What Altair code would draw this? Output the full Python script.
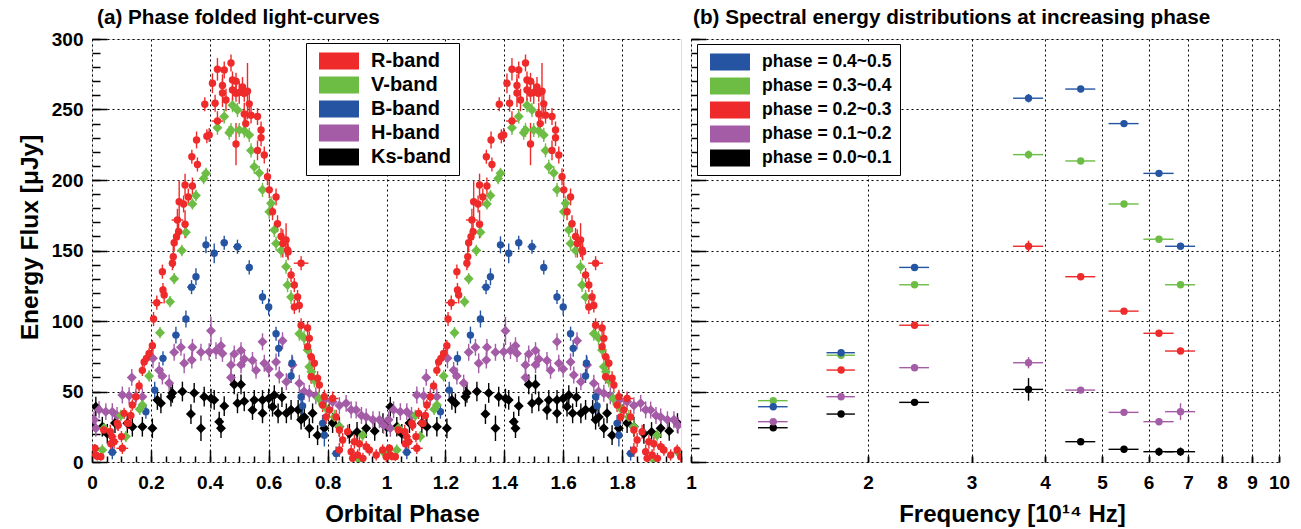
import altair as alt
import pandas as pd

FONT = "Liberation Sans"

# ---------------- (a) phase-folded light curves: (phase, flux, yerr, xerr) ----------------
R_BAND = [
    (0.010, 9.7, 3, 0.008), (0.013, 5.0, 3, 0.010), (0.018, 4.0, 3, 0.008), (0.030, 3.8, 3, 0.010),
    (0.040, 22.7, 4, 0.010), (0.062, 21.5, 5, 0.012), (0.064, 13.0, 4, 0.012), (0.068, 18.0, 5, 0.015),
    (0.075, 14.4, 5, 0.015), (0.086, 27.6, 5, 0.010), (0.089, 26.0, 4, 0.008), (0.100, 18.0, 4, 0.010),
    (0.103, 9.7, 4, 0.020), (0.109, 34.5, 4, 0.010), (0.120, 27.6, 4, 0.008), (0.124, 27.4, 4, 0.010),
    (0.132, 33.0, 4, 0.010), (0.137, 40.4, 4, 0.010), (0.149, 46.3, 4, 0.010), (0.160, 53.9, 4, 0.008),
    (0.171, 65.0, 4, 0.008), (0.177, 71.0, 4, 0.008), (0.185, 73.5, 4, 0.008), (0.194, 77.0, 4, 0.008),
    (0.205, 82.5, 4, 0.008), (0.209, 101.4, 5, 0.008), (0.220, 113.0, 5, 0.020), (0.239, 135.0, 5, 0.008),
    (0.241, 122.0, 5, 0.008), (0.245, 118.4, 6, 0.008), (0.273, 141.0, 5, 0.010), (0.276, 145.6, 8, 0.008),
    (0.279, 155.5, 6, 0.008), (0.287, 159.8, 6, 0.008), (0.290, 171.6, 8, 0.020), (0.294, 163.3, 6, 0.008),
    (0.296, 184.6, 15, 0.008), (0.311, 183.0, 6, 0.008), (0.316, 196.5, 8, 0.008), (0.316, 168.6, 10, 0.008),
    (0.327, 188.0, 6, 0.008), (0.339, 216.5, 5, 0.008), (0.341, 195.7, 6, 0.008), (0.355, 228.4, 6, 0.008),
    (0.358, 211.0, 5, 0.008), (0.383, 253.7, 5, 0.008), (0.390, 231.0, 5, 0.008), (0.398, 231.9, 5, 0.008),
    (0.409, 268.6, 7, 0.008), (0.418, 254.4, 6, 0.008), (0.426, 278.5, 8, 0.008), (0.426, 241.8, 7, 0.020),
    (0.443, 267.0, 8, 0.008), (0.443, 261.7, 10, 0.008), (0.449, 278.0, 6, 0.008), (0.455, 256.7, 8, 0.008),
    (0.472, 283.0, 6, 0.008), (0.477, 263.8, 8, 0.008), (0.477, 271.0, 6, 0.008), (0.489, 270.0, 6, 0.008),
    (0.489, 261.5, 6, 0.008), (0.489, 225.5, 15, 0.008), (0.500, 262.0, 8, 0.008), (0.511, 266.0, 7, 0.008),
    (0.517, 246.8, 8, 0.008), (0.517, 261.5, 6, 0.008), (0.522, 240.0, 6, 0.008), (0.528, 263.0, 20, 0.008),
    (0.534, 254.0, 7, 0.008), (0.540, 246.0, 6, 0.008), (0.562, 245.0, 6, 0.008), (0.562, 221.0, 7, 0.008),
    (0.574, 235.5, 6, 0.008), (0.574, 230.0, 6, 0.008), (0.585, 217.7, 6, 0.008), (0.596, 202.3, 6, 0.008),
    (0.602, 193.0, 6, 0.008), (0.613, 177.5, 6, 0.008), (0.625, 188.0, 6, 0.008), (0.630, 169.0, 6, 0.008),
    (0.642, 160.0, 6, 0.008), (0.648, 155.0, 10, 0.008), (0.659, 157.4, 12, 0.008), (0.664, 150.4, 6, 0.008),
    (0.666, 149.0, 6, 0.008), (0.676, 132.6, 5, 0.008), (0.687, 125.5, 5, 0.008), (0.687, 110.0, 5, 0.008),
    (0.698, 117.0, 5, 0.008), (0.704, 111.0, 5, 0.008), (0.710, 141.0, 5, 0.025), (0.710, 97.0, 5, 0.008),
    (0.732, 95.0, 5, 0.008), (0.738, 87.7, 5, 0.008), (0.732, 81.8, 5, 0.008), (0.744, 74.7, 5, 0.008),
    (0.755, 70.0, 5, 0.008), (0.744, 60.5, 5, 0.008), (0.766, 59.4, 5, 0.008), (0.772, 54.6, 5, 0.008),
    (0.783, 40.4, 5, 0.008), (0.789, 46.3, 5, 0.008), (0.795, 32.0, 5, 0.008), (0.806, 36.9, 5, 0.008),
    (0.817, 45.0, 5, 0.020), (0.829, 32.0, 5, 0.008), (0.840, 22.7, 5, 0.008), (0.840, 8.5, 5, 0.010),
    (0.851, 15.6, 5, 0.010), (0.868, 21.5, 5, 0.010), (0.880, 7.3, 5, 0.010), (0.885, 2.6, 4, 0.010),
    (0.891, 14.4, 5, 0.015), (0.902, 5.0, 4, 0.010), (0.908, 13.0, 5, 0.010), (0.920, 2.6, 4, 0.010),
    (0.931, 10.9, 4, 0.010), (0.942, 8.5, 4, 0.010), (0.965, 5.0, 4, 0.010), (0.987, 8.5, 4, 0.010),
    (0.999, 3.8, 4, 0.010),
]
V_BAND = [
    (0.035, 8.5, 4, 0.008), (0.041, 23.9, 4, 0.008), (0.098, 33.0, 4, 0.008), (0.115, 18.0, 4, 0.008),
    (0.162, 37.4, 4, 0.008), (0.171, 40.4, 4, 0.008), (0.194, 61.0, 4, 0.008), (0.231, 91.7, 4, 0.010),
    (0.265, 113.7, 4, 0.008), (0.279, 130.0, 4, 0.008), (0.305, 150.0, 4, 0.008), (0.319, 163.0, 4, 0.008),
    (0.341, 183.0, 4, 0.008), (0.353, 189.0, 4, 0.008), (0.379, 201.0, 4, 0.008), (0.387, 204.7, 4, 0.008),
    (0.426, 237.0, 5, 0.008), (0.449, 245.0, 5, 0.008), (0.466, 233.5, 5, 0.008), (0.472, 235.5, 5, 0.008),
    (0.477, 253.0, 5, 0.008), (0.494, 249.6, 5, 0.008), (0.500, 235.5, 5, 0.008), (0.517, 235.0, 5, 0.008),
    (0.534, 232.0, 5, 0.008), (0.540, 221.0, 5, 0.008), (0.551, 209.4, 5, 0.008), (0.568, 205.0, 5, 0.008),
    (0.579, 193.0, 5, 0.008), (0.602, 177.5, 5, 0.008), (0.608, 183.5, 5, 0.008), (0.619, 164.5, 5, 0.008),
    (0.625, 155.0, 5, 0.008), (0.642, 150.0, 5, 0.008), (0.659, 138.5, 5, 0.008), (0.664, 125.5, 5, 0.008),
    (0.676, 117.0, 5, 0.008), (0.704, 91.0, 5, 0.008), (0.720, 88.0, 5, 0.008), (0.732, 79.4, 5, 0.008),
    (0.738, 67.6, 5, 0.008), (0.745, 64.0, 5, 0.008), (0.755, 58.0, 5, 0.008), (0.770, 45.0, 5, 0.008),
    (0.795, 38.0, 5, 0.008), (0.823, 32.0, 5, 0.008), (0.840, 25.0, 5, 0.008), (0.908, 1.4, 4, 0.008),
    (0.919, 19.0, 4, 0.008), (0.990, 7.0, 4, 0.008),
]
B_BAND = [
    (0.069, 6.9, 5, 0.015), (0.183, 35.7, 5, 0.010), (0.213, 51.0, 6, 0.010), (0.241, 73.5, 5, 0.010),
    (0.285, 90.0, 6, 0.012), (0.319, 101.4, 6, 0.008), (0.338, 124.0, 5, 0.015), (0.353, 131.4, 6, 0.008),
    (0.387, 154.0, 6, 0.010), (0.415, 148.0, 7, 0.008), (0.449, 155.5, 5, 0.012), (0.494, 152.7, 5, 0.015),
    (0.534, 138.0, 5, 0.010), (0.579, 117.0, 5, 0.010), (0.600, 110.0, 6, 0.008), (0.625, 91.0, 5, 0.008),
    (0.634, 80.6, 6, 0.008), (0.676, 61.0, 5, 0.010), (0.679, 70.0, 6, 0.008), (0.710, 46.3, 5, 0.008),
    (0.715, 39.7, 6, 0.008), (0.783, 27.4, 6, 0.008), (0.789, 19.0, 8, 0.008), (0.829, 6.0, 5, 0.015),
]
H_BAND = [
    (0.007, 30.0, 6, 0.008), (0.013, 23.9, 6, 0.008), (0.024, 37.0, 6, 0.008), (0.047, 35.7, 6, 0.008),
    (0.069, 35.7, 6, 0.008), (0.085, 33.0, 6, 0.008), (0.103, 47.5, 6, 0.008), (0.126, 47.0, 6, 0.008),
    (0.135, 60.0, 6, 0.008), (0.149, 46.3, 6, 0.008), (0.171, 46.3, 6, 0.008), (0.207, 73.5, 7, 0.008),
    (0.228, 65.0, 6, 0.008), (0.239, 61.0, 6, 0.008), (0.262, 56.0, 6, 0.008), (0.279, 77.8, 6, 0.008),
    (0.302, 81.3, 6, 0.008), (0.313, 70.0, 7, 0.008), (0.339, 72.3, 6, 0.008), (0.341, 81.3, 6, 0.008),
    (0.370, 77.8, 6, 0.008), (0.398, 78.2, 6, 0.008), (0.404, 93.0, 10, 0.008), (0.421, 79.0, 6, 0.008),
    (0.438, 82.5, 6, 0.008), (0.443, 77.0, 6, 0.008), (0.472, 68.8, 7, 0.008), (0.472, 60.0, 6, 0.008),
    (0.483, 76.6, 6, 0.008), (0.506, 79.0, 6, 0.008), (0.506, 69.0, 6, 0.008), (0.517, 73.0, 6, 0.008),
    (0.545, 72.0, 6, 0.008), (0.557, 65.0, 6, 0.008), (0.579, 85.3, 6, 0.008), (0.585, 70.0, 6, 0.008),
    (0.600, 66.0, 6, 0.008), (0.625, 71.0, 6, 0.008), (0.636, 61.7, 6, 0.008), (0.647, 86.0, 6, 0.008),
    (0.660, 57.0, 6, 0.008), (0.681, 68.8, 6, 0.008), (0.704, 55.8, 6, 0.008), (0.720, 50.0, 6, 0.008),
    (0.738, 48.7, 6, 0.008), (0.760, 47.0, 6, 0.008), (0.790, 44.0, 6, 0.008), (0.817, 42.8, 6, 0.008),
    (0.840, 40.0, 6, 0.008), (0.863, 41.6, 6, 0.008), (0.880, 37.0, 6, 0.008), (0.897, 36.9, 6, 0.008),
    (0.915, 33.0, 6, 0.008), (0.931, 32.0, 6, 0.008), (0.954, 30.0, 6, 0.008), (0.976, 30.0, 6, 0.008),
    (0.990, 26.0, 6, 0.008),
]
KS_BAND = [
    (0.000, 25.0, 7, 0.008), (0.013, 39.2, 7, 0.008), (0.035, 25.0, 7, 0.008), (0.052, 20.0, 7, 0.008),
    (0.078, 27.6, 7, 0.008), (0.120, 27.4, 7, 0.008), (0.137, 25.0, 7, 0.008), (0.171, 25.0, 7, 0.008),
    (0.205, 23.9, 7, 0.008), (0.222, 44.0, 7, 0.008), (0.234, 41.6, 7, 0.008), (0.268, 46.3, 7, 0.008),
    (0.273, 49.0, 7, 0.008), (0.307, 50.0, 7, 0.008), (0.336, 34.0, 7, 0.008), (0.347, 49.0, 7, 0.008),
    (0.370, 23.9, 9, 0.008), (0.381, 46.3, 7, 0.008), (0.404, 45.0, 7, 0.008), (0.415, 44.0, 7, 0.008),
    (0.432, 28.6, 7, 0.008), (0.438, 24.0, 7, 0.008), (0.449, 39.7, 7, 0.008), (0.483, 55.0, 7, 0.008),
    (0.494, 41.6, 7, 0.008), (0.506, 55.0, 7, 0.008), (0.517, 43.0, 7, 0.008), (0.545, 36.9, 7, 0.008),
    (0.551, 44.0, 7, 0.008), (0.579, 34.5, 7, 0.008), (0.579, 44.0, 7, 0.008), (0.600, 45.0, 7, 0.008),
    (0.613, 39.2, 7, 0.008), (0.619, 47.5, 7, 0.008), (0.632, 34.5, 7, 0.008), (0.645, 46.0, 7, 0.008),
    (0.660, 34.5, 7, 0.008), (0.676, 37.0, 7, 0.008), (0.700, 37.0, 7, 0.008), (0.710, 30.0, 7, 0.008),
    (0.721, 32.0, 7, 0.008), (0.738, 24.0, 7, 0.008), (0.749, 34.5, 7, 0.008), (0.766, 19.0, 7, 0.008),
    (0.789, 24.0, 7, 0.008), (0.817, 27.6, 7, 0.008), (0.840, 25.0, 7, 0.008), (0.874, 20.0, 7, 0.008),
    (0.900, 21.3, 7, 0.008), (0.931, 24.0, 7, 0.008), (0.960, 22.0, 7, 0.008), (0.988, 27.6, 7, 0.008),
]

BANDS = ["R-band", "V-band", "B-band", "H-band", "Ks-band"]
BAND_COLORS = ["#ee2a2a", "#6dbd45", "#2554a3", "#a45ca7", "#000000"]
BAND_SHAPES = ["circle", "diamond", "circle", "diamond", "diamond"]
BAND_SIZES = [55, 100, 55, 100, 100]
CYCLES = [0, 1]

# ---------------- (b) SEDs ----------------
FREQ = [1.38, 1.80, 2.40, 3.75, 4.60, 5.45, 6.25, 6.80]
FREQ_ERR = [0.08, 0.10, 0.14, 0.22, 0.27, 0.32, 0.37, 0.40]
PHASES = ["phase = 0.4~0.5", "phase = 0.3~0.4", "phase = 0.2~0.3", "phase = 0.1~0.2", "phase = 0.0~0.1"]
PHASE_COLORS = ["#2554a3", "#6dbd45", "#ee2a2a", "#a45ca7", "#000000"]
SED_45 = [39.2, 77.5, 138.0, 258.0, 264.5, 240.0, 204.7, 153.0]
SED_34 = [43.5, 75.7, 125.7, 218.0, 213.5, 183.0, 158.0, 125.7]
SED_23 = [None, 65.2, 97.0, 153.0, 131.4, 107.0, 91.3, 78.7]
SED_12 = [28.6, 46.3, 66.9, 70.4, 51.0, 35.2, 28.6, 35.7]
SED_01 = [24.3, 34.0, 42.3, 51.5, 14.4, 9.0, 7.3, 7.3]
SED_45_ERR = [2, 2, 2, 3, 2, 2, 2, 2]
SED_34_ERR = [2, 2, 2, 3, 2, 2, 2, 2]
SED_23_ERR = [2, 2, 2, 4, 2, 2, 2, 2]
SED_12_ERR = [2, 2, 2, 4, 2, 2, 2, 6]
SED_01_ERR = [2, 2, 2, 8, 2, 2, 3, 3]

X_MAJOR = [0, 0.2, 0.4, 0.6, 0.8, 1.0, 1.2, 1.4, 1.6, 1.8]
X_MAJOR_TICKS = [0, 0.2, 0.4, 0.6, 0.8, 1.0, 1.2, 1.4, 1.6, 1.8, 2.0]
X_MINOR = [round(i * 0.05, 2) for i in range(41)]
Y_MAJOR = [0, 50, 100, 150, 200, 250, 300]
Y_MINOR = list(range(0, 301, 10))
F_TICKS = [1, 2, 3, 4, 5, 6, 7, 8, 9, 10]

# ---------------- tables ----------------
band_data = {"R-band": R_BAND, "V-band": V_BAND, "B-band": B_BAND, "H-band": H_BAND, "Ks-band": KS_BAND}
rows = []
for band in ["Ks-band", "H-band", "B-band", "V-band", "R-band"]:  # R drawn on top
    i = BANDS.index(band)
    for c in CYCLES:
        for ph, fl, ye, xe in band_data[band]:
            rows.append(dict(band=band, phase=ph + c, flux=fl, lo=max(fl - ye, 0), hi=fl + ye,
                             xlo=ph + c - xe, xhi=ph + c + xe, hex=BAND_COLORS[i],
                             shp=BAND_SHAPES[i], sz=BAND_SIZES[i]))
lc = pd.DataFrame(rows)

srows = []
for name, vals, errs in zip(PHASES[::-1], [SED_01, SED_12, SED_23, SED_34, SED_45],
                            [SED_01_ERR, SED_12_ERR, SED_23_ERR, SED_34_ERR, SED_45_ERR]):
    for f, fe, v, e in zip(FREQ, FREQ_ERR, vals, errs):
        if v is None:
            continue
        srows.append(dict(ph=name, f=f, flo=f - fe, fhi=f + fe, flux=v, lo=v - e, hi=v + e,
                          hex=PHASE_COLORS[PHASES.index(name)]))
sed = pd.DataFrame(srows)

LBL = dict(labelFont=FONT, labelFontSize=19, labelFontWeight="bold", labelColor="black")
GRID = dict(grid=True, gridColor="black", gridDash=[2, 3], gridWidth=1, gridOpacity=1)


def ttl(size):
    return dict(titleFont=FONT, titleFontSize=size, titleFontWeight="bold", titleColor="black")


def tick_axis(orient, values, size):
    return alt.Axis(orient=orient, values=values, offset=-size, tickSize=size, tickWidth=1.5,
                    tickColor="black", labels=False, domain=False, grid=False, title=None)


def legend(x, y, fsize, rowpad):
    return alt.Legend(title=None, orient="none", legendX=x, legendY=y,
                      symbolType="M-2,-0.85H2V0.85H-2Z", symbolSize=400,
                      symbolOffset=15, labelOffset=22, symbolStrokeWidth=0, symbolOpacity=1,
                      labelFont=FONT, labelFontSize=fsize, labelFontWeight="bold", labelColor="black",
                      padding=8, rowPadding=rowpad, strokeColor="black", fillColor="white", labelLimit=400)


def title(text, dx, offset):
    return alt.Title(text, anchor="start", frame="group", dx=dx, offset=offset, font=FONT,
                     fontSize=20.7, fontWeight="bold", color="black")


# ---------------- left panel ----------------
xs = alt.Scale(domain=[0, 2], nice=False, zero=False)
ys = alt.Scale(domain=[0, 300], nice=False, zero=False)
bcol = alt.Scale(domain=BANDS, range=BAND_COLORS)

lbase = alt.Chart(lc)
l_yerr = lbase.mark_rule(strokeWidth=1.4, clip=True).encode(
    x=alt.X("phase:Q", scale=xs, axis=alt.Axis(orient="bottom", values=X_MAJOR, format="~g",
                                                 ticks=False, domain=False, labelPadding=11, labelFlush=False,
                                                 title="Orbital Phase", titlePadding=10, titleX=310,
                                                 titleAlign="center", **LBL, **ttl(24), **GRID)),
    y=alt.Y("lo:Q", scale=ys, axis=alt.Axis(orient="left", values=Y_MAJOR, ticks=False, domain=False,
                                             labelPadding=9, title="Energy Flux [μJy]", titlePadding=9,
                                             titleY=198, titleAlign="center",
                                             **LBL, **ttl(24.5), **GRID)),
    y2="hi:Q",
    color=alt.Color("hex:N", scale=None),
)
l_xerr = lbase.mark_rule(strokeWidth=1.4, clip=True).encode(
    x=alt.X("xlo:Q", scale=xs, axis=tick_axis("bottom", X_MAJOR_TICKS, 12)),
    x2="xhi:Q",
    y=alt.Y("flux:Q", scale=ys, axis=tick_axis("left", Y_MAJOR, 15)),
    color=alt.Color("hex:N", scale=None),
)
l_pts = lbase.mark_point(filled=True, opacity=1, clip=True).encode(
    x=alt.X("phase:Q", scale=xs, axis=tick_axis("bottom", X_MINOR, 6)),
    y=alt.Y("flux:Q", scale=ys, axis=tick_axis("left", Y_MINOR, 8)),
    color=alt.Color("band:N", scale=bcol, legend=legend(214, 4, 20, 4)),
    shape=alt.Shape("shp:N", scale=None),
    size=alt.Size("sz:Q", scale=None),
)
left = alt.layer(l_yerr, l_xerr, l_pts).resolve_axis(x="independent", y="independent").properties(
    width=589, height=423,
    title=title("(a) Phase folded light-curves", 5, 1),
)

# ---------------- right panel ----------------
fs = alt.Scale(type="log", domain=[1, 10], nice=False)
pcol = alt.Scale(domain=PHASES, range=PHASE_COLORS)
rbase = alt.Chart(sed)
r_yerr = rbase.mark_rule(strokeWidth=1.4, clip=True).encode(
    x=alt.X("f:Q", scale=fs, axis=alt.Axis(orient="bottom", values=F_TICKS, format="d", ticks=False,
                                            domain=False, labelPadding=11, labelFlush=False,
                                            title="Frequency [10¹⁴ Hz]", titlePadding=10, titleX=321,
                                            titleAlign="center", **LBL, **ttl(24), **GRID)),
    y=alt.Y("lo:Q", scale=ys, axis=alt.Axis(orient="left", values=Y_MAJOR, ticks=False, domain=False,
                                             labels=False, title=None, **GRID)),
    y2="hi:Q",
    color=alt.Color("hex:N", scale=None),
)
r_xerr = rbase.mark_rule(strokeWidth=1.4, clip=True).encode(
    x=alt.X("flo:Q", scale=fs, axis=tick_axis("bottom", F_TICKS, 6)),
    x2="fhi:Q",
    y=alt.Y("flux:Q", scale=ys, axis=tick_axis("left", Y_MAJOR, 15)),
    color=alt.Color("hex:N", scale=None),
)
r_pts = rbase.mark_point(filled=True, opacity=1, size=55, shape="circle", clip=True).encode(
    x=alt.X("f:Q", scale=fs, axis=tick_axis("bottom", F_TICKS, 6)),
    y=alt.Y("flux:Q", scale=ys, axis=tick_axis("left", Y_MINOR, 8)),
    color=alt.Color("ph:N", scale=pcol, legend=legend(6, 5, 17.5, 5)),
)
right = alt.layer(r_yerr, r_xerr, r_pts).resolve_axis(x="independent", y="independent").properties(
    width=588, height=423,
    title=title("(b) Spectral energy distributions at increasing phase", 2, 10),
)

chart = alt.hconcat(left, right, spacing=10, bounds="flush").resolve_scale(color="independent").properties(
    padding={"left": 16, "top": 6, "right": 5, "bottom": 5}
).configure_view(stroke="black", strokeWidth=2).configure(background="white")

chart.save("out.html", embed_options={"renderer": "svg", "actions": False})
